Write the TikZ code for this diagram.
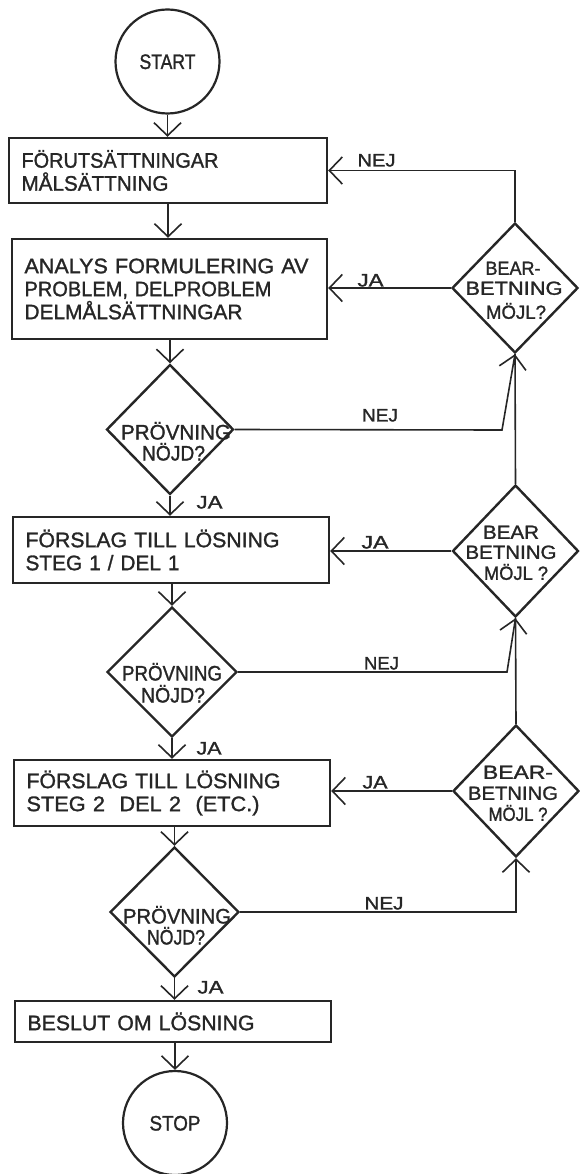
\documentclass[tikz,border=0pt]{standalone}
\usepackage{fontspec}
\usepackage{graphicx}
\setmainfont{Liberation Sans}[FakeBold=1.3]
\usetikzlibrary{shapes.geometric,arrows.meta}
\definecolor{inkc}{RGB}{38,38,38}
\newcommand{\fw}[2]{\resizebox{#1pt}{\height}{#2}}
\begin{document}
\begin{tikzpicture}[x=1pt,y=-1pt,
  conn/.style={draw=inkc, line width=1.6pt},
  arr/.style={conn, -{Straight Barb[length=13pt,width=27pt]}},
  box/.style={draw=inkc, line width=2.4pt, rectangle, inner xsep=12.5pt, inner ysep=0pt, align=left, text=inkc, font=\fontsize{21}{23}\selectfont},
  dia/.style={draw=inkc, line width=2.4pt, diamond, inner sep=0pt, minimum width=127pt, minimum height=130pt},
  term/.style={draw=inkc, line width=2.2pt, circle, inner sep=0pt, minimum size=104pt, text=inkc, font=\fontsize{21}{23}\selectfont, text height=15pt, text depth=0pt},
  ptxt/.style={inner sep=0pt, text=inkc, font=\fontsize{21}{23}\selectfont, text height=15pt, text depth=0pt},
  dtxt/.style={inner sep=0pt, text=inkc, font=\fontsize{19}{21}\selectfont, text height=13.6pt, text depth=0pt},
  lab/.style={inner sep=0pt, text=inkc, font=\fontsize{18}{20}\selectfont, text height=12.9pt, text depth=0pt}]

\path[use as bounding box, fill=white] (0,0) rectangle (579,1174);

% main column
\node[term] (start) at (167.5,61.5) {\fw{56}{START}};
\node[box, text width=293pt, minimum height=65pt] (b1) at (168,170.5)
  {\fw{197}{FÖRUTSÄTTNINGAR}\\\fw{147}{MÅLSÄTTNING}};
\node[box, text width=290pt, minimum height=100pt] (b2) at (169.5,289)
  {\fw{284}{ANALYS FORMULERING AV}\\\fw{247}{PROBLEM, DELPROBLEM}\\\fw{218}{DELMÅLSÄTTNINGAR}};
\node[dia] (p1) at (170,429.5) {};
\node[box, text width=291pt, minimum height=66pt] (b3) at (171,550)
  {\fw{254}{FÖRSLAG TILL LÖSNING}\\\fw{154}{STEG 1 / DEL 1}};
\node[dia, minimum width=130pt] (p2) at (172,672) {};
\node[box, text width=291pt, minimum height=66pt] (b4) at (172,793)
  {\fw{254}{FÖRSLAG TILL LÖSNING}\\\fw{233}{STEG 2\ \ DEL 2\ \ (ETC.)}};
\node[dia, minimum width=129pt] (p3) at (174.5,912) {};
\node[box, text width=291pt, minimum height=41pt] (b5) at (173,1021.5)
  {\fw{227}{BESLUT OM LÖSNING}};
\node[term] (stop) at (175,1123) {\fw{51}{STOP}};

% right column
\node[dia, minimum width=126pt] (d1) at (515,288) {};
\node[dia, minimum width=126pt, minimum height=132pt] (d2) at (515.5,551) {};
\node[dia, minimum width=126pt, minimum height=132pt] (d3) at (516,791) {};

% diamond texts
\node[ptxt] (p1a) at (176,432) {\fw{110}{PRÖVNING}};
\node[ptxt] (p1b) at (173.5,453) {\fw{63}{NÖJD?}};
\node[ptxt] (p2a) at (172,673) {\fw{100}{PRÖVNING}};
\node[ptxt] (p2b) at (173,695) {\fw{64}{NÖJD?}};
\node[ptxt] (p3a) at (177,916) {\fw{108}{PRÖVNING}};
\node[ptxt] (p3b) at (176,937) {\fw{58}{NÖJD?}};
\node[dtxt] (d1a) at (513,268) {\fw{55}{BEAR-}};
\node[dtxt] (d1b) at (514,288) {\fw{97}{BETNING}};
\node[dtxt] (d1c) at (516,312) {\fw{60}{MÖJL?}};
\node[dtxt] (d2a) at (511,532) {\fw{56}{BEAR}};
\node[dtxt] (d2b) at (511,552) {\fw{91}{BETNING}};
\node[dtxt] (d2c) at (516,573) {\fw{64}{MÖJL ?}};
\node[dtxt] (d3a) at (518,772) {\fw{70}{BEAR-}};
\node[dtxt] (d3b) at (513,793) {\fw{90}{BETNING}};
\node[dtxt] (d3c) at (518,814) {\fw{59}{MÖJL ?}};

% main flow
\draw[arr] (start.south) -- (start.south |- b1.north);
\draw[arr] (b1.south) -- (b1.south |- b2.north);
\draw[arr] (p1.north |- b2.south) -- (p1.north);
\draw[arr] (p1.south) -- (p1.south |- b3.north);
\draw[arr] (p2.north |- b3.south) -- (p2.north);
\draw[arr] (p2.south) -- (p2.south |- b4.north);
\draw[arr] (p3.north |- b4.south) -- (p3.north);
\draw[arr] (p3.south) -- (p3.south |- b5.north);
\draw[arr] (stop.north |- b5.south) -- (stop.north);

% feedback loops
\coordinate (k1) at (502,430);
\coordinate (k2) at (507,672);
\draw[arr] (d1.north) |- (b1.east);
\draw[arr] (d1.west) -- (d1.west -| b2.east);
\draw[arr] (p1.east) -- (k1) -- (d1.south);
\draw[conn] (d2.north) -- (d1.south);
\draw[arr] (d2.west) -- (d2.west -| b3.east);
\draw[arr] (p2.east) -- (k2) -- (d2.south);
\draw[conn] (d3.north) -- (d2.south);
\draw[arr] (d3.west) -- (d3.west -| b4.east);
\draw[arr] (p3.east) -| (d3.south);

% labels
\node[lab] (l1) at (376.5,160) {\fw{38}{NEJ}};
\node[lab] (l2) at (370.5,280) {\fw{26}{JA}};
\node[lab] (l3) at (380,415) {\fw{36}{NEJ}};
\node[lab] (l4) at (375,542) {\fw{27}{JA}};
\node[lab] (l5) at (381.5,663) {\fw{35}{NEJ}};
\node[lab] (l6) at (375,782) {\fw{25}{JA}};
\node[lab] (l7) at (384,903) {\fw{39}{NEJ}};
\node[lab] (l8) at (209.5,502) {\fw{26}{JA}};
\node[lab] (l9) at (209,748) {\fw{25}{JA}};
\node[lab] (l10) at (210.5,987) {\fw{26}{JA}};
\end{tikzpicture}
\end{document}
